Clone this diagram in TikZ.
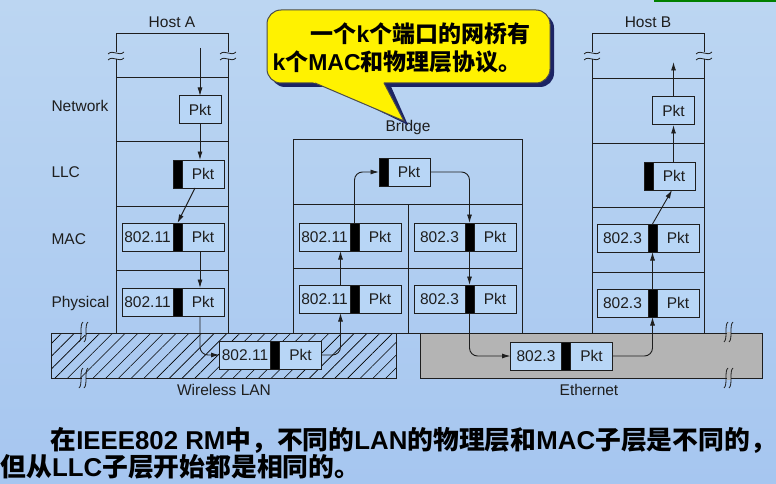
\documentclass[tikz,border=0pt]{standalone}
\usepackage{fontspec}
\setmainfont{Liberation Sans}
\newfontfamily\cjk{Noto Sans CJK SC}
\newfontfamily\latb{Liberation Sans}
\usetikzlibrary{positioning,arrows.meta,patterns.meta}
\definecolor{bgtop}{RGB}{188,214,242}
\definecolor{bgbot}{RGB}{166,198,240}
\definecolor{boxblue}{RGB}{184,214,246}
\definecolor{ethgray}{RGB}{180,180,180}
\definecolor{bubshadow}{RGB}{28,36,100}
\definecolor{ink}{RGB}{30,30,30}
\newcommand\lb[1]{{\latb\bfseries #1}}
\begin{document}
\begin{tikzpicture}[x=1pt,y=-1pt,line width=1pt,draw=ink,text=ink,
  font=\fontsize{15.5}{18}\selectfont,
  hdr/.style={draw,fill=boxblue,minimum width=51pt,minimum height=28pt,inner sep=0pt,outer sep=0pt},
  bar/.style={draw,fill=black,minimum width=9pt,minimum height=28pt,inner sep=0pt,outer sep=0pt},
  pkt/.style={draw,fill=boxblue,minimum width=42pt,minimum height=28pt,inner sep=0pt,outer sep=0pt},
  flow/.style={-{Latex[length=8.5pt,width=5pt]},line width=0.9pt},
  layer/.style={anchor=west,inner sep=0pt}]
%background
\fill[top color=bgtop,bottom color=bgbot] (0,0) rectangle (776,484);
\useasboundingbox (0,0) rectangle (776,484);
\fill[green!50!black] (654,0) rectangle (776,2.5);

%media
\draw[pattern={Lines[angle=45,distance=9pt,line width=0.6pt]}] (51,333) rectangle (396,378);
\draw[fill=ethgray] (420,333) rectangle (762,378);
\foreach \y in {333,378} {
  \fill[bgbot] (81.5,\y-1.5) rectangle (85.5,\y+1.5);
  \fill[ethgray] (726.5,\y-1.5) rectangle (730.5,\y+1.5);
}
\foreach \x in {81,86}
  \foreach \y in {332,378}
    \draw[line width=0.8pt] (\x+2,\y-10) .. controls (\x-2,\y-7) and (\x+2,\y+7) .. (\x-2,\y+10);
\foreach \x in {726,731}
  \foreach \y in {332,378}
    \draw[line width=0.8pt] (\x+2,\y-10) .. controls (\x-2,\y-7) and (\x+2,\y+7) .. (\x-2,\y+10);
\node (wlan) at (224,390) {Wireless LAN};
\node (ether) at (589,390) {Ethernet};

%host A
\draw (116,52) -- (116,34) -- (228,34) -- (228,52);
\draw (116,59) -- (116,333);
\draw (228,59) -- (228,333);
\foreach \y in {78,142,206,270}
  \draw (116,\y) -- (228,\y);
%host B
\draw (592,52) -- (592,34) -- (704,34) -- (704,52);
\draw (592,59) -- (592,333);
\draw (704,59) -- (704,333);
\foreach \y in {79,143.5,207,272}
  \draw (592,\y) -- (704,\y);
\foreach \x in {116,228,592,704} {
  \draw[line width=0.8pt] (\x-8,54) .. controls (\x-3,49) and (\x+3,57) .. (\x+8,52);
  \draw[line width=0.8pt] (\x-8,60) .. controls (\x-3,55) and (\x+3,63) .. (\x+8,58);
}
%bridge
\draw (293,140) rectangle (522,333);
\draw (293,204) -- (522,204);
\draw (293,268) -- (522,268);
\draw (408,204) -- (408,333);

\node (hosta) at (172,22) {Host A};
\node (hostb) at (648,22) {Host B};
\node (bridge) at (408,127) {Bridge};
\node[layer] (lnet) at (51,106) {Network};
\node[layer] (lllc) at (51,172) {LLC};
\node[layer] (lmac) at (51,239) {MAC};
\node[layer] (lphy) at (51,303) {Physical};

%packets in host A
\node[pkt] (anp) at (200,110) {Pkt};
\node[bar] (alb) at (177.5,174) {};
\node[pkt,right=0pt of alb] (alp) {Pkt};
\node[hdr] (amh) at (147.5,237) {802.11};
\node[bar,right=0pt of amh] (amb) {};
\node[pkt,right=0pt of amb] (amp) {Pkt};
\node[hdr] (aph) at (147.5,302) {802.11};
\node[bar,right=0pt of aph] (apb) {};
\node[pkt,right=0pt of apb] (app) {Pkt};
%packets in bridge
\node[bar] (btb) at (383.5,172) {};
\node[pkt,right=0pt of btb] (btp) {Pkt};
\node[hdr] (wmh) at (324.5,237) {802.11};
\node[bar,right=0pt of wmh] (wmb) {};
\node[pkt,right=0pt of wmb] (wmp) {Pkt};
\node[hdr] (wph) at (324.5,299) {802.11};
\node[bar,right=0pt of wph] (wpb) {};
\node[pkt,right=0pt of wpb] (wpp) {Pkt};
\node[hdr] (emh) at (439.5,237) {802.3};
\node[bar,right=0pt of emh] (emb) {};
\node[pkt,right=0pt of emb] (emp) {Pkt};
\node[hdr] (eph) at (439.5,299) {802.3};
\node[bar,right=0pt of eph] (epb) {};
\node[pkt,right=0pt of epb] (epp) {Pkt};
%packets in host B
\node[pkt] (hbnp) at (673.5,111) {Pkt};
\node[bar] (hblb) at (648.5,176) {};
\node[pkt,right=0pt of hblb] (hblp) {Pkt};
\node[hdr] (hbmh) at (622.5,238) {802.3};
\node[bar,right=0pt of hbmh] (hbmb) {};
\node[pkt,right=0pt of hbmb] (hbmp) {Pkt};
\node[hdr] (hbph) at (622.5,303) {802.3};
\node[bar,right=0pt of hbph] (hbpb) {};
\node[pkt,right=0pt of hbpb] (hbpp) {Pkt};
%packets on the wire
\node[hdr] (wlh) at (245,355) {802.11};
\node[bar,right=0pt of wlh] (wlb) {};
\node[pkt,right=0pt of wlb] (wlp) {Pkt};
\node[hdr] (eth) at (536,356) {802.3};
\node[bar,right=0pt of eth] (etb) {};
\node[pkt,right=0pt of etb] (etp) {Pkt};

%path of the frame
\coordinate (atop) at (200,48);
\coordinate (btop) at (673.5,62);
\draw[flow] (atop) -- (anp.north);
\draw[flow] (anp.south) -- (anp.south |- alp.north);
\draw[flow] ([xshift=-8pt]alp.south) -- (amb.north);
\draw[flow] ([xshift=-3pt]amp.south) -- ([xshift=-3pt]app.north);
\draw[flow,rounded corners=8pt] ([xshift=-3pt]app.south) |- (wlh.west);
\draw[flow,rounded corners=8pt] (wlp.east) -| ([xshift=16pt]wph.south);
\draw[flow] ([xshift=16pt]wph.north) -- ([xshift=16pt]wmh.south);
\draw[flow,rounded corners=8pt] (wmb.north) |- (btb.west);
\draw[flow,rounded corners=8pt] (btp.east) -| (emb.north);
\draw[flow] (emb.south) -- (epb.north);
\draw[flow,rounded corners=8pt] (epb.south) |- (eth.west);
\draw[flow,rounded corners=8pt] (etp.east) -| (hbpb.south);
\draw[flow] (hbpb.north) -- (hbmb.south);
\draw[flow] (hbmb.north) -- ([xshift=-2pt]hblp.south);
\draw[flow] (hbnp.south |- hblp.north) -- (hbnp.south);
\draw[flow] (hbnp.north) -- (btop);

%callout
\fill[bubshadow,rounded corners=14pt] (271,14) rectangle (554,87);
\fill[bubshadow] (320,82) -- (408,125) -- (389,82) -- cycle;
\draw[draw=black!70,fill=yellow,rounded corners=14pt] (267,10) rectangle (550,83);
\fill[yellow] (310.3,81) -- (404,121) -- (382.9,81) -- cycle;
\draw[draw=black!70] (315,83) -- (404,121) -- (384,83);
\node[anchor=west,align=left,inner sep=0pt,text=black,
  font=\cjk\bfseries\fontsize{23}{28}\selectfont] (note) at (272,48)
  {\hspace*{38pt}一个\lb{k}个端口的网桥有\\\lb{k}个\lb{MAC}和物理层协议。};

%caption
\begin{scope}[font=\cjk\bfseries\fontsize{25.8}{30}\selectfont,text=black]
\node[anchor=base west,inner sep=0pt] (cap1) at (50,449)
  {在\lb{IEEE802 RM}中，不同的\lb{LAN}的物理层和\lb{MAC}子层是不同的，};
\node[anchor=base west,inner sep=0pt] (cap2) at (0,476)
  {但从\lb{LLC}子层开始都是相同的。};
\end{scope}
\end{tikzpicture}
\end{document}
